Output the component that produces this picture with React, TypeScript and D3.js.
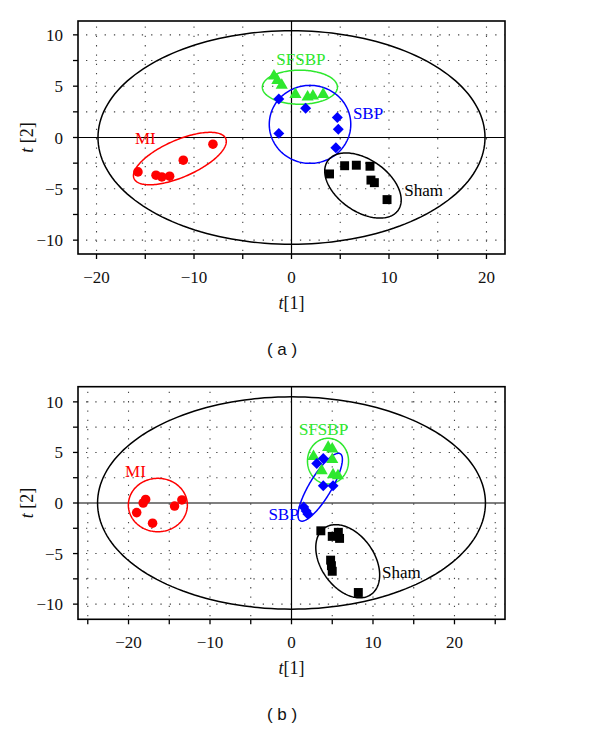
import React from 'react';
import * as d3 from 'd3';

// ---------- axis ticks ----------
const xTicksA = [-20, -15, -10, -5, 0, 5, 10, 15, 20];
const xLabelsA = [-20, -10, 0, 10, 20];
const xTicksB = [-25, -20, -15, -10, -5, 0, 5, 10, 15, 20, 25];
const xLabelsB = [-20, -10, 0, 10, 20];
const yTicks = [-10, -7.5, -5, -2.5, 0, 2.5, 5, 7.5, 10];
const yLabels = [-10, -5, 0, 5, 10];
const xDomainA = [-21.9, 21.9];
const yDomainA = [-11.35, 11.35];
const xDomainB = [-26.2, 26.2];
const yDomainB = [-11.5, 11.5];

// ---------- groups ----------
const groups = ['MI', 'SFSBP', 'SBP', 'Sham'];
const groupColors = ['#ff0000', '#2ee82e', '#0000ff', '#000000'];
const groupShapes = ['circle', 'triangle', 'diamond', 'square'];

// ---------- panel (a) scores [t1, t2] ----------
const miA = [[-15.75, -3.35], [-13.9, -3.67], [-13.3, -3.84], [-12.5, -3.77], [-11.1, -2.21], [-8.06, -0.65]];
const sfsbpA = [[-1.8, 6.0], [-1.45, 5.55], [-1.0, 5.1], [0.4, 4.2], [1.65, 3.95], [2.2, 4.05], [3.25, 4.2]];
const sbpA = [[-1.3, 3.75], [-1.3, 0.4], [1.45, 2.85], [4.7, 1.95], [4.8, 0.8], [4.55, -1.0]];
const shamA = [[3.9, -3.55], [5.45, -2.75], [6.65, -2.7], [8.05, -2.8], [8.15, -4.15], [8.5, -4.4], [9.8, -6.05]];

// ---------- panel (b) scores [t1, t2] ----------
const miB = [[-19.0, -0.95], [-18.2, 0.0], [-17.9, 0.35], [-17.05, -2.0], [-14.35, -0.3], [-13.45, 0.3]];
const sfsbpB = [[2.7, 4.6], [4.5, 5.5], [5.0, 5.35], [5.0, 4.3], [3.7, 3.2], [5.1, 2.8], [5.7, 2.7]];
const sbpB = [[1.5, -0.4], [1.8, -0.8], [2.0, -1.1], [3.1, 3.9], [3.9, 4.4], [3.9, 1.7], [5.1, 1.7]];
const shamB = [[3.6, -2.75], [5.0, -3.3], [5.75, -2.9], [5.9, -3.5], [4.8, -5.65], [4.9, -6.2], [5.0, -6.75], [8.2, -8.85]];

// ---------- confidence ellipses: [group index (-1 = Hotelling T2), cx, cy, rx, ry, angle] ----------
const ellipsesA = [
  [-1, 0, 0, 19.85, 10.4, 0],
  [0, -11.45, -2.05, 5.13, 1.8, -23.6],
  [1, 0.86, 4.9, 3.85, 1.66, 0],
  [2, 1.9, 1.28, 4.18, 3.8, 0],
  [3, 7.33, -4.68, 4.41, 2.53, 35],
];
const ellipsesB = [
  [-1, 0, 0, 23.8, 10.5, 0],
  [0, -16.4, -0.2, 3.62, 2.64, 0],
  [1, 4.48, 4.14, 2.52, 2.26, 0],
  [2, 3.52, 1.56, 4.79, 1.09, -59],
  [3, 6.9, -5.76, 4.98, 2.64, 55],
];

// ---------- group labels: [group index, t1, t2, anchor] ----------
const labelsA = [
  [0, -15.0, -0.65, 'middle'],
  [1, 0.96, 7.05, 'middle'],
  [2, 6.3, 1.78, 'start'],
  [3, 11.56, -5.7, 'start'],
];
const labelsB = [
  [0, -19.15, 2.57, 'middle'],
  [1, 3.93, 6.73, 'middle'],
  [2, -0.98, -1.68, 'middle'],
  [3, 11.1, -7.43, 'start'],
];

const SERIF = '"Liberation Serif", "Times New Roman", serif';
const SANS = '"Liberation Sans", Arial, sans-serif';

const symbolFor = (shape: string) => {
  if (shape === 'circle') return d3.symbol().type(d3.symbolCircle).size(72)();
  if (shape === 'triangle') return d3.symbol().type(d3.symbolTriangle).size(64)();
  if (shape === 'diamond') return d3.symbol().type(d3.symbolSquare).size(60)();
  return d3.symbol().type(d3.symbolSquare).size(80)();
};

function ellipsePath(e: number[], x: any, y: any) {
  const [, cx, cy, rx, ry, angle] = e;
  const kx = Math.abs(x(1) - x(0));
  const ky = Math.abs(y(1) - y(0));
  const px = x(cx);
  const py = y(cy);
  const a = (angle * Math.PI) / 180;
  const pts = d3.range(0, 360, 2).map((deg) => {
    const t = (deg * Math.PI) / 180;
    const u = rx * kx * Math.cos(t);
    const v = ry * ky * Math.sin(t);
    return [px + u * Math.cos(a) - v * Math.sin(a), py + u * Math.sin(a) + v * Math.cos(a)] as [number, number];
  });
  return d3.line().curve(d3.curveLinearClosed)(pts) as string;
}

function Panel(props: any) {
  const { top, bottom, xDomain, yDomain, xTicks, xLabels, series, ellipses, labels, caption } = props;
  const left = 78;
  const right = 505;
  const x = d3.scaleLinear().domain(xDomain).range([left, right]);
  const y = d3.scaleLinear().domain(yDomain).range([bottom, top]);
  const id = 'clip-' + caption;
  return (
    <g>
      <defs>
        <clipPath id={id}>
          <rect x={left} y={top} width={right - left} height={bottom - top} />
        </clipPath>
      </defs>
      {/* dotted grid */}
      <g stroke="#444" strokeWidth={1.1} strokeDasharray="1.3,8">
        {xTicks.filter((t: number) => t !== 0).map((t: number) => (
          <line key={'gx' + t} x1={x(t)} x2={x(t)} y1={bottom - 3} y2={top} />
        ))}
        {yTicks.filter((t) => t !== 0).map((t) => (
          <line key={'gy' + t} x1={left + 8} x2={right} y1={y(t)} y2={y(t)} />
        ))}
      </g>
      {/* zero lines */}
      <line x1={x(0)} x2={x(0)} y1={top} y2={bottom} stroke="#000" strokeWidth={1.2} />
      <line x1={left} x2={right} y1={y(0)} y2={y(0)} stroke="#000" strokeWidth={1.2} />
      {/* ellipses */}
      <g clipPath={`url(#${id})`} fill="none">
        {ellipses.map((e: number[], i: number) => (
          <path key={'e' + i} d={ellipsePath(e, x, y)} stroke={e[0] < 0 ? '#000' : groupColors[e[0]]} strokeWidth={1.5} />
        ))}
      </g>
      {/* points */}
      {series.map((pts: number[][], gi: number) => (
        <g key={'s' + gi} fill={groupColors[gi]}>
          {pts.map((p, j) => (
            <path
              key={j}
              d={symbolFor(groupShapes[gi]) as string}
              transform={`translate(${x(p[0])},${y(p[1])})${groupShapes[gi] === 'diamond' ? ' rotate(45)' : ''}`}
            />
          ))}
        </g>
      ))}
      {/* group labels */}
      {labels.map((l: any[], i: number) => (
        <text key={'l' + i} x={x(l[1])} y={y(l[2])} textAnchor={l[3]} fill={groupColors[l[0]]} fontFamily={SERIF} fontSize={17}>
          {groups[l[0]]}
        </text>
      ))}
      {/* frame */}
      <rect x={left} y={top} width={right - left} height={bottom - top} fill="none" stroke="#000" strokeWidth={1.6} />
      {/* x ticks */}
      {xTicks.map((t: number) => (
        <line key={'tx' + t} x1={x(t)} x2={x(t)} y1={bottom} y2={bottom + 5} stroke="#000" strokeWidth={1.3} />
      ))}
      {xLabels.map((t: number) => (
        <text key={'lx' + t} x={x(t)} y={bottom + 29} textAnchor="middle" fontFamily={SERIF} fontSize={17} fill="#111">
          {t < 0 ? '\u2212' + Math.abs(t) : String(t)}
        </text>
      ))}
      {/* y ticks */}
      {yTicks.map((t) => (
        <line key={'ty' + t} x1={left - 5} x2={left} y1={y(t)} y2={y(t)} stroke="#000" strokeWidth={1.3} />
      ))}
      {yLabels.map((t) => (
        <text key={'ly' + t} x={63} y={y(t) + 6} textAnchor="end" fontFamily={SERIF} fontSize={17} fill="#111">
          {t < 0 ? '\u2212' + Math.abs(t) : String(t)}
        </text>
      ))}
      {/* axis titles */}
      <text x={x(0)} y={bottom + 55} textAnchor="middle" fontFamily={SERIF} fontSize={18} fill="#111">
        <tspan fontStyle="italic">t</tspan>
        <tspan>[1]</tspan>
      </text>
      <text
        transform={`translate(33,${y(0)}) rotate(-90)`}
        textAnchor="middle"
        fontFamily={SERIF}
        fontSize={18}
        fill="#111"
      >
        <tspan fontStyle="italic">t</tspan>
        <tspan> [2]</tspan>
      </text>
      {/* caption */}
      <text x={282} y={bottom + 101} textAnchor="middle" fontFamily={SANS} fontSize={17} fill="#111">
        {`( ${caption} )`}
      </text>
    </g>
  );
}

export default function App() {
  return (
    <svg
      width={600}
      height={730}
      viewBox="0 0 600 730"
      style={{ position: 'absolute', left: 0, top: 0, background: '#fff' }}
    >
      <rect width={600} height={730} fill="#fff" />
      <Panel
        top={21}
        bottom={254}
        xDomain={xDomainA}
        yDomain={yDomainA}
        xTicks={xTicksA}
        xLabels={xLabelsA}
        series={[miA, sfsbpA, sbpA, shamA]}
        ellipses={ellipsesA}
        labels={labelsA}
        caption="a"
      />
      <Panel
        top={386.7}
        bottom={619.3}
        xDomain={xDomainB}
        yDomain={yDomainB}
        xTicks={xTicksB}
        xLabels={xLabelsB}
        series={[miB, sfsbpB, sbpB, shamB]}
        ellipses={ellipsesB}
        labels={labelsB}
        caption="b"
      />
    </svg>
  );
}
